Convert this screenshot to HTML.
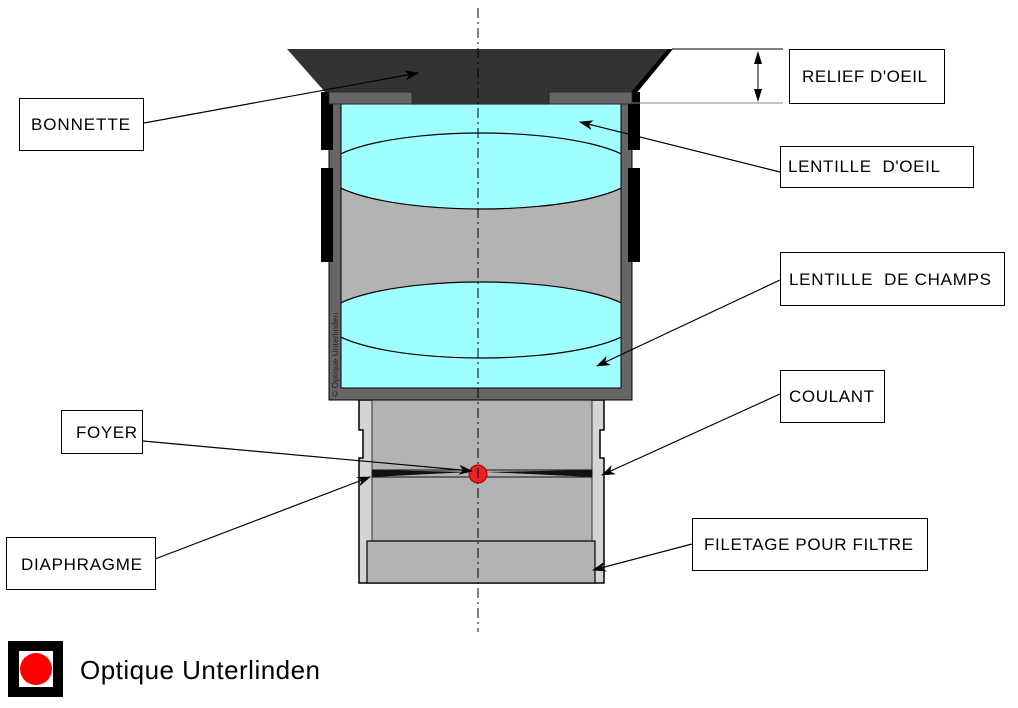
<!DOCTYPE html>
<html><head><meta charset="utf-8"><style>
html,body{margin:0;padding:0;background:#fff;width:1018px;height:708px;overflow:hidden}
svg{display:block}
text{font-family:"Liberation Sans",Arial,sans-serif;white-space:pre}
</style></head><body>
<svg width="1018" height="708" viewBox="0 0 1018 708" xmlns="http://www.w3.org/2000/svg">
<defs>
<marker id="ar" markerWidth="14" markerHeight="10" refX="13" refY="5" orient="auto" markerUnits="userSpaceOnUse">
<path d="M0,0 L14,5 L0,10 L4,5 Z" fill="#000"/></marker>
<clipPath id="inner"><rect x="341" y="104" width="280" height="284"/></clipPath>
</defs>
<!-- coulant -->
<path d="M359,400 H604 V430 H600 V458 H604 V583 H359 V458 H363 V430 H359 Z" fill="#d4d4d4" stroke="#000" stroke-width="1.5"/>
<rect x="372" y="388" width="220" height="195" fill="#b3b3b3"/>
<line x1="372" y1="400" x2="372" y2="583" stroke="#333" stroke-width="1"/>
<line x1="592" y1="400" x2="592" y2="583" stroke="#333" stroke-width="1"/>
<rect x="367" y="541" width="228" height="42" fill="#b3b3b3" stroke="#000" stroke-width="1.2"/>
<!-- diaphragm -->
<path d="M372,470 L470,472 L372,477 Z" fill="#111"/>
<path d="M592,470 L486,472 L592,477 Z" fill="#111"/>
<rect x="372" y="470" width="220" height="7" fill="none" stroke="#111" stroke-width="1"/>
<!-- housing -->
<rect x="329" y="92" width="303" height="308" fill="#666" stroke="#000" stroke-width="1"/>
<rect x="341" y="104" width="280" height="284" fill="#9ffffe" stroke="#000" stroke-width="1"/>
<g clip-path="url(#inner)">
<rect x="341" y="171" width="280" height="149" fill="#b3b3b3"/>
<ellipse cx="481" cy="171" rx="157" ry="38" fill="#9ffffe" stroke="#000" stroke-width="1.2"/>
<ellipse cx="481" cy="320" rx="157" ry="38" fill="#9ffffe" stroke="#000" stroke-width="1.2"/>
</g>
<line x1="341" y1="104" x2="341" y2="388" stroke="#000"/>
<line x1="621" y1="104" x2="621" y2="388" stroke="#000"/>
<!-- black strips -->
<rect x="321" y="92" width="12" height="58" fill="#000"/>
<rect x="321" y="168" width="12" height="94" fill="#000"/>
<rect x="628" y="92" width="12" height="58" fill="#000"/>
<rect x="628" y="168" width="12" height="94" fill="#000"/>
<!-- eyecup -->
<path d="M287,49 H672 L632,92 H549 V104 H412 V92 H325 Z" fill="#333"/>
<path d="M668,49 H673 L635,95 L631,92 Z" fill="#000"/>
<rect x="329" y="92" width="83" height="12" fill="#666" stroke="#222" stroke-width="0.8"/>
<rect x="549" y="92" width="83" height="12" fill="#666" stroke="#222" stroke-width="0.8"/>
<text x="0" y="0" font-size="8.5" fill="#222" transform="translate(338,397) rotate(-90)">© Optique Unterlinden</text>
<!-- focus -->
<circle cx="478" cy="474" r="9" fill="#ee2222" stroke="#900" stroke-width="1"/>
<!-- axis -->
<line x1="478" y1="8" x2="478" y2="632" stroke="#000" stroke-width="1" stroke-dasharray="10,4,2,4"/>
<!-- relief -->
<line x1="672" y1="49" x2="783" y2="49" stroke="#000"/>
<line x1="632" y1="103" x2="783" y2="103" stroke="#888"/>
<line x1="758" y1="52" x2="758" y2="100" stroke="#000"/>
<path d="M758,51 L754,64 L762,64 Z M758,102 L754,89 L762,89 Z" fill="#000"/>
<!-- leaders -->
<g stroke="#000" stroke-width="1.2" fill="none">
<line x1="144" y1="123" x2="418" y2="73" marker-end="url(#ar)"/>
<line x1="780" y1="172" x2="580" y2="122" marker-end="url(#ar)"/>
<line x1="780" y1="280" x2="597" y2="366" marker-end="url(#ar)"/>
<line x1="780" y1="394" x2="602" y2="475" marker-end="url(#ar)"/>
<line x1="143" y1="441" x2="472" y2="471" marker-end="url(#ar)"/>
<line x1="155" y1="559" x2="370" y2="477" marker-end="url(#ar)"/>
<line x1="692" y1="544" x2="593" y2="570" marker-end="url(#ar)"/>
</g>
<!-- boxes -->
<g fill="#fff" stroke="#000" stroke-width="1">
<rect x="19.5" y="98.5" width="124" height="52"/>
<rect x="789.5" y="49.5" width="155" height="54"/>
<rect x="780.5" y="146.5" width="193" height="41"/>
<rect x="780.5" y="252.5" width="224" height="53"/>
<rect x="780.5" y="370.5" width="104" height="52"/>
<rect x="61.5" y="410.5" width="81" height="43"/>
<rect x="6.5" y="537.5" width="149" height="52"/>
<rect x="692.5" y="518.5" width="235" height="52"/>
</g>
<g font-size="17" fill="#000">
<text x="31" y="130" textLength="99">BONNETTE</text>
<text x="802" y="82" textLength="125">RELIEF D'OEIL</text>
<text x="788" y="172" textLength="152">LENTILLE  D'OEIL</text>
<text x="789" y="285" textLength="202">LENTILLE  DE CHAMPS</text>
<text x="789" y="402" textLength="85">COULANT</text>
<text x="76" y="438" textLength="61">FOYER</text>
<text x="21" y="570" textLength="121">DIAPHRAGME</text>
<text x="704" y="550" textLength="209">FILETAGE POUR FILTRE</text>
</g>
<!-- logo -->
<rect x="8" y="641" width="55" height="56" fill="#000"/>
<rect x="19" y="651" width="34" height="36" fill="#fff"/>
<circle cx="36" cy="669" r="16" fill="#ff0000"/>
<text x="80" y="679" font-size="26" fill="#000" textLength="240">Optique Unterlinden</text>
</svg>
</body></html>
